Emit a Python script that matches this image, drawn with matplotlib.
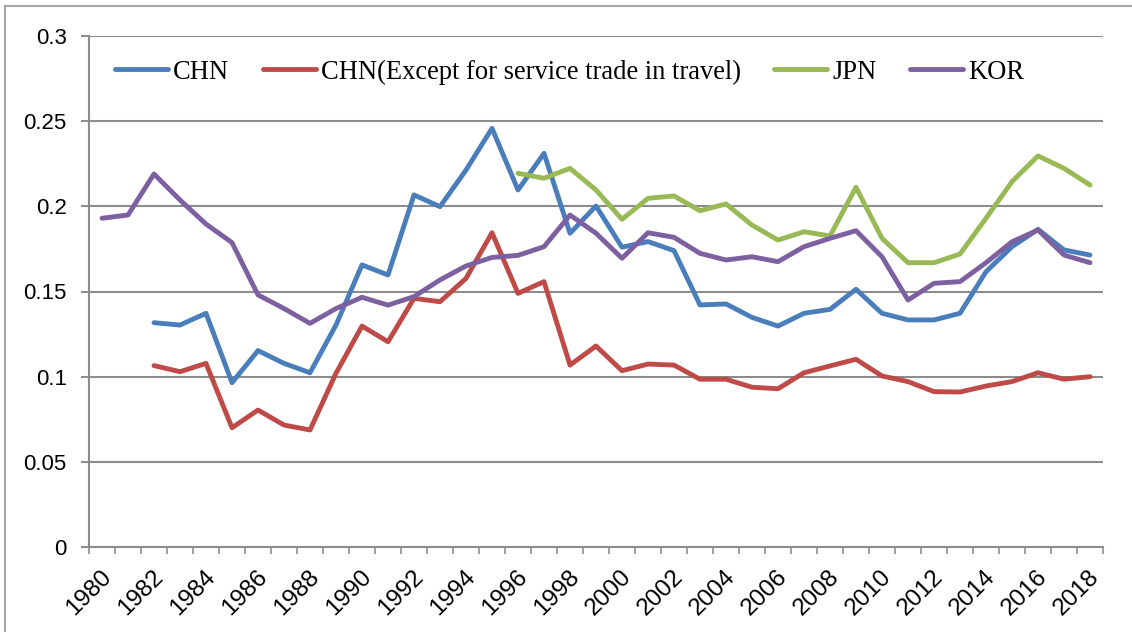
import matplotlib.pyplot as plt
import numpy as np
from matplotlib.lines import Line2D
from matplotlib.transforms import ScaledTranslation

years = list(range(1980, 2019))

# None where the series has no value
chn = [None, None, 0.1317, 0.1303, 0.1372, 0.0965, 0.1153, 0.1078, 0.1023, 0.1303,
       0.1656, 0.1597, 0.2067, 0.1998, 0.2213, 0.2458, 0.2096, 0.2311, 0.1842, 0.2002,
       0.1760, 0.1793, 0.1740, 0.1421, 0.1427, 0.1348, 0.1297, 0.1372, 0.1395, 0.1513,
       0.1372, 0.1333, 0.1333, 0.1372, 0.1616, 0.1763, 0.1865, 0.1744, 0.1714]
chn_ex_travel = [None, None, 0.1065, 0.1029, 0.1078, 0.0700, 0.0804, 0.0716, 0.0687, 0.1020,
                 0.1297, 0.1205, 0.1460, 0.1440, 0.1577, 0.1845, 0.1489, 0.1558, 0.1068, 0.1180,
                 0.1035, 0.1074, 0.1068, 0.0985, 0.0985, 0.0938, 0.0929, 0.1023, 0.1063, 0.1102,
                 0.1004, 0.0971, 0.0912, 0.0910, 0.0945, 0.0971, 0.1023, 0.0985, 0.1000]
jpn = [None] * 16 + [0.2194, 0.2165, 0.2223, 0.2096,
                     0.1924, 0.2047, 0.2061, 0.1974, 0.2014, 0.1890, 0.1802, 0.1851, 0.1826, 0.2112,
                     0.1812, 0.1669, 0.1669, 0.1720, 0.1930, 0.2145, 0.2296, 0.2223, 0.2125]
kor = [0.1930, 0.1949, 0.2190, 0.2037, 0.1896, 0.1787, 0.1480, 0.1400, 0.1313, 0.1400,
       0.1466, 0.1420, 0.1470, 0.1568, 0.1650, 0.1700, 0.1712, 0.1763, 0.1949, 0.1842,
       0.1695, 0.1845, 0.1818, 0.1724, 0.1685, 0.1704, 0.1675, 0.1763, 0.1812, 0.1857,
       0.1704, 0.1450, 0.1548, 0.1558, 0.1669, 0.1792, 0.1861, 0.1714, 0.1669]

series = [
    ('CHN', chn, '#4a7ebb'),
    ('CHN(Except for service trade in travel)', chn_ex_travel, '#be4b48'),
    ('JPN', jpn, '#98b954'),
    ('KOR', kor, '#7d60a0'),
]

grid_col = '#8c8c8c'

fig = plt.figure(figsize=(11.32, 6.32), dpi=100)
ax = fig.add_axes([89 / 1132, 1 - 547 / 632, (1103 - 89) / 1132, (547 - 36) / 632])

x = np.arange(len(years))
for name, vals, col in series:
    y = np.array([np.nan if v is None else v for v in vals], dtype=float)
    ax.plot(x, y, color=col, lw=3.5, label=name,
            solid_capstyle='round', solid_joinstyle='round')

ax.set_xlim(-0.5, len(years) - 0.5)
ax.set_ylim(0, 0.3)
ax.set_yticks(np.arange(0, 0.301, 0.05))
ax.set_yticklabels(['0', '0.05', '0.1', '0.15', '0.2', '0.25', '0.3'])
ax.yaxis.grid(True, color=grid_col, lw=1.5)
ax.set_axisbelow(True)

ax.set_xticks(x[::2])
ax.set_xticklabels([str(yr) for yr in years[::2]])
ax.set_xticks(np.arange(-0.5, len(years), 1), minor=True)
ax.tick_params(axis='x', which='major', length=0, pad=19, labelsize=17.5)
ax.tick_params(axis='x', which='minor', length=5, width=1.2, color=grid_col)
ax.tick_params(axis='y', length=6, width=1.5, color=grid_col, pad=10, labelsize=16)

for lab in ax.get_xticklabels():
    lab.set_fontfamily('Liberation Sans')
    lab.set_rotation(45)
    lab.set_ha('right')
    lab.set_va('center')
    lab.set_rotation_mode('anchor')
    lab.set_transform(lab.get_transform() + ScaledTranslation(0.06, 0, fig.dpi_scale_trans))
for lab in ax.get_yticklabels():
    lab.set_fontfamily('Liberation Sans')

for s in ['top', 'right']:
    ax.spines[s].set_visible(False)
for s in ['left', 'bottom']:
    ax.spines[s].set_color(grid_col)
    ax.spines[s].set_linewidth(1.5)

leg = ax.legend(loc='center left', bbox_to_anchor=((115 - 89) / 1014, (547 - 72) / 511),
                ncol=4, frameon=False, borderpad=0, borderaxespad=0,
                handlelength=2.0, handletextpad=0.2, columnspacing=1.25,
                prop={'family': 'Liberation Serif', 'size': 19.1})

# outer chart frame (top and left edges visible)
fig.add_artist(Line2D([5 / 1132, 5 / 1132], [0, 1 - 6 / 632], color='#a6a6a6', lw=1.5))
fig.add_artist(Line2D([5 / 1132, 1], [1 - 6 / 632, 1 - 6 / 632], color='#a6a6a6', lw=1.5))

fig.savefig('out.png', dpi=100)
